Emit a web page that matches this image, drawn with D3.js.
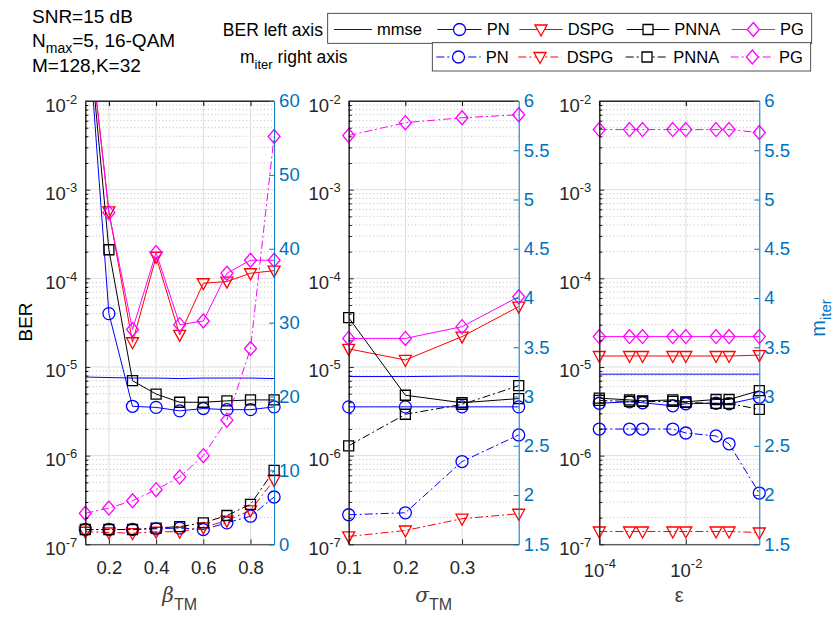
<!DOCTYPE html>
<html>
<head>
<meta charset="utf-8">
<script src="https://cdn.jsdelivr.net/npm/d3@7/dist/d3.min.js"></script>
<style>
body { margin: 0; background: #fff; }
svg text { font-family: "Liberation Sans", Arial, Helvetica, sans-serif; }
</style>
</head>
<body>
<div id="main"></div>
<script>
// ---- data ----
// panel 1 : beta_TM
var beta = [0.1, 0.2, 0.3, 0.4, 0.5, 0.6, 0.7, 0.8, 0.9];
var beta_mmse = [7.7e-6, 7.6e-6, 7.5e-6, 7.5e-6, 7.4e-6, 7.5e-6, 7.5e-6, 7.5e-6, 7.4e-6];
var beta_pn   = [0.17, 4.0e-5, 3.6e-6, 3.5e-6, 3.2e-6, 3.4e-6, 3.3e-6, 3.3e-6, 3.55e-6];
var beta_dspg = [0.14, 5.7e-4, 1.9e-5, 1.75e-4, 2.3e-5, 8.8e-5, 9.2e-5, 1.14e-4, 1.22e-4];
var beta_pnna = [0.15, 2.1e-4, 7.0e-6, 4.95e-6, 4.0e-6, 4.0e-6, 4.15e-6, 4.25e-6, 4.25e-6];
var beta_pg   = [0.14, 5.5e-4, 2.65e-5, 1.95e-4, 3.0e-5, 3.3e-5, 1.14e-4, 1.6e-4, 1.6e-4];
var beta_it_pn   = [2.0, 2.0, 2.0, 2.1, 2.2, 2.0, 2.9, 3.8, 6.4];
var beta_it_dspg = [1.7, 1.6, 1.5, 1.7, 1.7, 2.3, 3.2, 4.6, 8.7];
var beta_it_pnna = [2.0, 2.0, 2.0, 2.2, 2.4, 2.9, 3.9, 5.4, 10.0];
var beta_it_pg   = [4.2, 4.9, 5.9, 7.4, 9.1, 12.0, 16.8, 26.5, 55.2];

// panel 2 : sigma_TM
var sigma = [0.1, 0.2, 0.3, 0.4];
var sigma_mmse = [7.8e-6, 7.8e-6, 7.9e-6, 7.8e-6];
var sigma_pn   = [3.55e-6, 3.55e-6, 3.55e-6, 3.55e-6];
var sigma_dspg = [1.6e-5, 1.2e-5, 2.2e-5, 4.8e-5];
var sigma_pnna = [3.6e-5, 4.8e-6, 3.95e-6, 4.4e-6];
var sigma_pg   = [2.1e-5, 2.1e-5, 2.85e-5, 6.2e-5];
var sigma_it_pn   = [1.8, 1.82, 2.34, 2.61];
var sigma_it_dspg = [1.58, 1.64, 1.76, 1.81];
var sigma_it_pnna = [2.5, 2.82, 2.92, 3.11];
var sigma_it_pg   = [5.65, 5.78, 5.83, 5.86];

// panel 3 : epsilon
var eps = [1e-4, 5e-4, 1e-3, 5e-3, 1e-2, 5e-2, 0.1, 0.5];
var eps_mmse = [8.3e-6, 8.3e-6, 8.3e-6, 8.3e-6, 8.3e-6, 8.3e-6, 8.3e-6, 8.3e-6];
var eps_pn   = [3.9e-6, 4.05e-6, 3.95e-6, 3.65e-6, 3.85e-6, 3.9e-6, 3.85e-6, 4.55e-6];
var eps_dspg = [1.33e-5, 1.33e-5, 1.33e-5, 1.33e-5, 1.33e-5, 1.33e-5, 1.33e-5, 1.36e-5];
var eps_pnna = [4.45e-6, 4.25e-6, 4.15e-6, 4.25e-6, 4.05e-6, 4.3e-6, 4.3e-6, 5.4e-6];
var eps_pg   = [2.2e-5, 2.2e-5, 2.2e-5, 2.2e-5, 2.2e-5, 2.2e-5, 2.2e-5, 2.2e-5];
var eps_it_pn   = [2.67, 2.67, 2.67, 2.67, 2.63, 2.6, 2.52, 2.02];
var eps_it_dspg = [1.63, 1.63, 1.63, 1.63, 1.63, 1.63, 1.63, 1.62];
var eps_it_pnna = [2.96, 2.95, 2.95, 2.95, 2.94, 2.93, 2.93, 2.87];
var eps_it_pg   = [5.71, 5.71, 5.71, 5.71, 5.71, 5.71, 5.71, 5.68];

// ticks
var berTicks = [1e-7, 1e-6, 1e-5, 1e-4, 1e-3, 1e-2];
var betaTicks = [0.2, 0.4, 0.6, 0.8];
var sigmaTicks = [0.1, 0.2, 0.3];
var epsTicks = [1e-4, 1e-2];
var iterTicks1 = [0, 10, 20, 30, 40, 50, 60];
var iterTicks23 = [1.5, 2, 2.5, 3, 3.5, 4, 4.5, 5, 5.5, 6];

var legendNames = ["mmse", "PN", "DSPG", "PNNA", "PG"];

var ctx = {
    w: 835,
    h: 617,
    top: 101,
    bottom: 544.3,
    AX: "#262626",
    RAX: "#0072BD",
    FS: 18.5,
    DASHDOT: "8,3,2,3"
};

var styles = {
    mmse: {color: "#0000FF", marker: null},
    pn:   {color: "#0000FF", marker: "circle"},
    dspg: {color: "#FF0000", marker: "tri"},
    pnna: {color: "#000000", marker: "square"},
    pg:   {color: "#FF00FF", marker: "diamond"}
};

var markerPath = function(type){
    if (type == "circle") return "M6,0A6,6 0 1,1 -6,0A6,6 0 1,1 6,0Z";
    if (type == "square") return "M-5,-5H5V5H-5Z";
    if (type == "diamond") return "M0,-7L6,0L0,7L-6,0Z";
    if (type == "tri") return "M-6,-4.5L6,-4.5L0,6.5Z";
    return "";
};

var panels = [
    {x0: 85.3, x1: 274.1, log: false, xDom: [0.1, 0.9], xTicks: betaTicks,
     rDom: [0, 60], rTicks: iterTicks1, xs: beta,
     ber: {mmse: beta_mmse, pn: beta_pn, dspg: beta_dspg, pnna: beta_pnna, pg: beta_pg},
     it: {pn: beta_it_pn, dspg: beta_it_dspg, pnna: beta_it_pnna, pg: beta_it_pg}},
    {x0: 348.7, x1: 518.7, log: false, xDom: [0.1, 0.4], xTicks: sigmaTicks,
     rDom: [1.5, 6], rTicks: iterTicks23, xs: sigma,
     ber: {mmse: sigma_mmse, pn: sigma_pn, dspg: sigma_dspg, pnna: sigma_pnna, pg: sigma_pg},
     it: {pn: sigma_it_pn, dspg: sigma_it_dspg, pnna: sigma_it_pnna, pg: sigma_it_pg}},
    {x0: 599.3, x1: 759.3, log: true, xDom: [1e-4, 0.5], xTicks: epsTicks,
     rDom: [1.5, 6], rTicks: iterTicks23, xs: eps,
     ber: {mmse: eps_mmse, pn: eps_pn, dspg: eps_dspg, pnna: eps_pnna, pg: eps_pg},
     it: {pn: eps_it_pn, dspg: eps_it_dspg, pnna: eps_it_pnna, pg: eps_it_pg}}
];

var supLabel = function(sel, base, sup, supDy){
    sel.text(null);
    sel.append("tspan").text(base);
    sel.append("tspan").attr("dy", supDy).style("font-size", "13px").text(sup);
};

var drawSeries = function(g, xScale, yScale, xs, ys, st, dashed, clipId, yDom){
    var pts = xs.map(function(x, i){ return [x, ys[i]]; });
    var line = d3.line()
        .x(function(d){ return xScale(d[0]); })
        .y(function(d){ return yScale(d[1]); });
    g.append("path")
        .attr("d", line(pts))
        .attr("clip-path", "url(#" + clipId + ")")
        .style("fill", "none")
        .style("stroke", st.color)
        .style("stroke-width", 1)
        .style("stroke-dasharray", dashed ? ctx.DASHDOT : null);
    if (!st.marker) return;
    g.selectAll(null)
        .data(pts.filter(function(d){ return d[1] >= yDom[0] && d[1] <= yDom[1]; }))
        .enter()
        .append("path")
        .attr("transform", function(d){ return "translate(" + xScale(d[0]) + "," + yScale(d[1]) + ")"; })
        .attr("d", markerPath(st.marker))
        .style("fill", "none")
        .style("stroke", st.color)
        .style("stroke-width", 1.3);
};

var drawPanel = function(svg, p, idx){
    var xScale = (p.log ? d3.scaleLog() : d3.scaleLinear())
        .domain(p.xDom).range([p.x0, p.x1]);
    var yL = d3.scaleLog().domain([1e-7, 1e-2]).range([ctx.bottom, ctx.top]);
    var yR = d3.scaleLinear().domain(p.rDom).range([ctx.bottom, ctx.top]);
    var g = svg.append("g").attr("id", "panel" + idx);

    var clipId = "clip" + idx;
    svg.append("clipPath").attr("id", clipId)
        .append("rect")
        .attr("x", p.x0 - 10).attr("y", ctx.top)
        .attr("width", p.x1 - p.x0 + 20).attr("height", ctx.bottom - ctx.top);

    // minor grid (dotted)
    var minor = [];
    for (var k = -7; k < -2; k++) {
        for (var m = 2; m <= 9; m++) minor.push(m * Math.pow(10, k));
    }
    g.append("g").selectAll("line").data(minor).enter().append("line")
        .attr("x1", p.x0).attr("x2", p.x1)
        .attr("y1", function(d){ return yL(d); })
        .attr("y2", function(d){ return yL(d); })
        .style("stroke", "#bdbdbd")
        .style("stroke-width", 1)
        .style("stroke-dasharray", "1,2.5");
    // major grid
    g.append("g").selectAll("line").data(berTicks).enter().append("line")
        .attr("x1", p.x0).attr("x2", p.x1)
        .attr("y1", function(d){ return yL(d); })
        .attr("y2", function(d){ return yL(d); })
        .style("stroke", "#dedede");
    g.append("g").selectAll("line").data(p.xTicks).enter().append("line")
        .attr("x1", function(d){ return xScale(d); })
        .attr("x2", function(d){ return xScale(d); })
        .attr("y1", ctx.top).attr("y2", ctx.bottom)
        .style("stroke", "#dedede");

    // BER curves (left axis, solid)
    ["mmse", "pn", "dspg", "pnna", "pg"].forEach(function(key){
        drawSeries(g, xScale, yL, p.xs, p.ber[key], styles[key], false, clipId, [1e-7, 1e-2]);
    });
    // iteration curves (right axis, dash-dot)
    ["pn", "dspg", "pnna", "pg"].forEach(function(key){
        drawSeries(g, xScale, yR, p.xs, p.it[key], styles[key], true, clipId, p.rDom);
    });

    // left axis
    var gl = g.append("g").attr("transform", "translate(" + p.x0 + ",0)")
        .call(d3.axisLeft(yL).tickValues(berTicks).tickSize(-5).tickSizeOuter(0).tickPadding(8));
    g.append("g").attr("transform", "translate(" + p.x0 + ",0)")
        .call(d3.axisLeft(yL).tickValues(minor).tickSize(-3).tickSizeOuter(0).tickFormat(""));
    gl.selectAll(".tick text").each(function(d){
        var t = d3.select(this).attr("dy", null).attr("y", 10);
        supLabel(t, "10", String(Math.round(Math.log10(d))), -8);
    });

    // right axis
    var gr = g.append("g").attr("transform", "translate(" + p.x1 + ",0)")
        .call(d3.axisRight(yR).tickValues(p.rTicks).tickSize(-5).tickSizeOuter(0).tickPadding(5)
            .tickFormat(d3.format("~g")));

    // bottom and top axes
    var gb = g.append("g").attr("transform", "translate(0," + ctx.bottom + ")")
        .call(d3.axisBottom(xScale).tickValues(p.xTicks).tickSize(-5).tickSizeOuter(0)
            .tickFormat(p.log ? null : d3.format(".1f")));
    gb.selectAll(".tick text").attr("dy", null).attr("y", 29.5);
    if (p.log) {
        gb.selectAll(".tick text").each(function(d){
            var t = d3.select(this).attr("y", 32.5);
            supLabel(t, "10", String(Math.round(Math.log10(d))), -9);
        });
    }
    g.append("g").attr("transform", "translate(0," + ctx.top + ")")
        .call(d3.axisTop(xScale).tickValues(p.xTicks).tickSize(-5).tickSizeOuter(0).tickFormat(""));

    // axis styling
    [gl, gb].forEach(function(a){ a.selectAll("path,line").style("stroke", ctx.AX); });
    g.selectAll("g > g .domain").style("stroke", ctx.AX);
    gr.selectAll("path,line").style("stroke", ctx.RAX);
    gr.selectAll("text").style("fill", ctx.RAX);
    g.selectAll(".tick text").style("font-size", ctx.FS + "px")
        .style("font-family", "'Liberation Sans', Arial, sans-serif");
    gl.selectAll(".tick text").style("fill", ctx.AX);
    gb.selectAll(".tick text").style("fill", ctx.AX);
    // top border line
    g.append("line")
        .attr("x1", p.x0).attr("x2", p.x1).attr("y1", ctx.top).attr("y2", ctx.top)
        .style("stroke", ctx.AX);
    gr.raise();
};

var drawLegend = function(svg){
    var lg = svg.append("g").attr("id", "legend");
    lg.append("rect").attr("x", 327.7).attr("y", 13.3).attr("width", 484).attr("height", 30)
        .style("fill", "#fff").style("stroke", ctx.AX).style("stroke-width", 0.8);
    lg.append("rect").attr("x", 432.3).attr("y", 42.7).attr("width", 378.4).attr("height", 28.3)
        .style("fill", "#fff").style("stroke", ctx.AX).style("stroke-width", 0.8);

    var keys = ["mmse", "pn", "dspg", "pnna", "pg"];
    var row1 = [[334, 372], [437.3, 481.7], [519.3, 562.7], [626.7, 669.3], [731.7, 775]];
    var rows = [{y: 29.5, dx: 0, dashed: false, items: [0, 1, 2, 3, 4]},
                {y: 57, dx: -1, dashed: true, items: [1, 2, 3, 4]}];
    rows.forEach(function(r){
        r.items.forEach(function(i){
            var st = styles[keys[i]];
            var xa = row1[i][0] + r.dx, xb = row1[i][1] + r.dx;
            lg.append("line").attr("x1", xa).attr("x2", xb).attr("y1", r.y).attr("y2", r.y)
                .style("stroke", st.color)
                .style("stroke-dasharray", r.dashed ? ctx.DASHDOT : null);
            if (st.marker) {
                lg.append("path").attr("d", markerPath(st.marker))
                    .attr("transform", "translate(" + (xa + xb) / 2 + "," + r.y + ")")
                    .style("fill", "#fff").style("stroke", st.color).style("stroke-width", 1.3);
            }
            lg.append("text").attr("x", xb + 5).attr("y", r.y).attr("dy", "0.35em")
                .style("font-size", "16.5px").style("fill", "#000")
                .text(legendNames[i]);
        });
    });
};

var drawLabels = function(svg){
    var t = svg.append("g").style("fill", "#000");
    t.append("text").attr("x", 32).attr("y", 22.7).style("font-size", "19px").text("SNR=15 dB");
    var n = t.append("text").attr("x", 32).attr("y", 46.7).style("font-size", "19px");
    n.append("tspan").text("N");
    n.append("tspan").attr("dy", 6).style("font-size", "14px").text("max");
    n.append("tspan").attr("dy", -6).text("=5, 16-QAM");
    t.append("text").attr("x", 32).attr("y", 71.7).style("font-size", "19px").text("M=128,K=32");

    t.append("text").attr("x", 323).attr("y", 29.5).attr("dy", "0.35em")
        .style("text-anchor", "end").style("font-size", "17.5px").text("BER left axis");
    var mi = t.append("text").attr("x", 240).attr("y", 63).style("font-size", "17.5px");
    mi.append("tspan").text("m");
    mi.append("tspan").attr("dy", 6).style("font-size", "13px").text("iter");
    mi.append("tspan").attr("dy", -6).text(" right axis");

    // y-axis labels
    t.append("text").attr("transform", "translate(32,322) rotate(-90)")
        .style("text-anchor", "middle").style("font-size", "19px").text("BER");
    var ri = t.append("text").attr("transform", "translate(825,318) rotate(-90)")
        .style("text-anchor", "middle").style("font-size", "20px").style("fill", ctx.RAX);
    ri.append("tspan").text("m");
    ri.append("tspan").attr("dy", 6).style("font-size", "15px").text("iter");

    // x-axis labels
    var xl = [
        {x: 179.7, sym: "\u03B2", italic: true, sub: "TM"},
        {x: 433.7, sym: "\u03C3", italic: true, sub: "TM"},
        {x: 679.3, sym: "\u03B5", italic: false, sub: null}
    ];
    xl.forEach(function(d){
        var tx = t.append("text").attr("x", d.x).attr("y", 602)
            .style("text-anchor", "middle").style("font-size", "20px").style("fill", "#404040");
        tx.append("tspan").style("font-style", d.italic ? "italic" : "normal")
            .style("font-family", d.italic ? "'DejaVu Serif', serif" : null).text(d.sym);
        if (d.sub) tx.append("tspan").attr("dy", 8).style("font-size", "16px").text(d.sub);
    });
};

var createViz = function(){
    var svg = d3.select("#main").append("svg")
        .attr("width", ctx.w).attr("height", ctx.h)
        .style("background", "#fff");
    panels.forEach(function(p, i){ drawPanel(svg, p, i); });
    drawLabels(svg);
    drawLegend(svg);
};

createViz();
</script>
</body>
</html>
